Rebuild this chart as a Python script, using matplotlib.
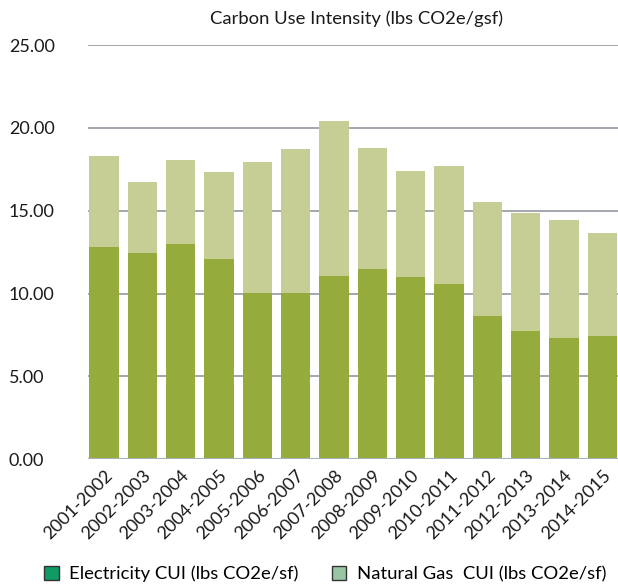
import numpy as np
import matplotlib
matplotlib.use('Agg')
import matplotlib.pyplot as plt
from matplotlib.patches import Patch

plt.rcParams['font.family'] = ['Lato', 'DejaVu Sans']

years = ['2001-2002', '2002-2003', '2003-2004', '2004-2005', '2005-2006',
         '2006-2007', '2007-2008', '2008-2009', '2009-2010', '2010-2011',
         '2011-2012', '2012-2013', '2013-2014', '2014-2015']
electricity = [12.84, 12.42, 13.02, 12.06, 10.06, 10.06, 11.09,
               11.51, 11.03, 10.55, 8.67, 7.76, 7.34, 7.46]
total = [18.29, 16.71, 18.05, 17.32, 17.92, 18.71, 20.41,
         18.77, 17.38, 17.68, 15.51, 14.84, 14.42, 13.63]
natural_gas = [t - e for t, e in zip(total, electricity)]

bar_elec = '#95ac3d'
bar_gas = '#c6ce96'

fig = plt.figure(figsize=(6.18, 5.86), dpi=100)
# axes runs past the right edge, the chart is cropped there
ax = fig.add_axes([88 / 618, 126.7 / 586, 552 / 618, 414.3 / 586])

x = np.arange(len(years))
ax.bar(x, electricity, width=0.765, color=bar_elec, zorder=2)
ax.bar(x, natural_gas, bottom=electricity, width=0.765, color=bar_gas, zorder=2)

ax.set_xlim(-0.42, -0.42 + 552 / 38.33)
ax.set_ylim(0, 25)
ax.set_yticks([0, 5, 10, 15, 20, 25])
ax.set_yticklabels([f'{v:.2f}' for v in [0, 5, 10, 15, 20, 25]], fontsize=13, color='#1a1a1a')
ax.yaxis.grid(True, color='#9aa0a6', linewidth=1.3, zorder=0)
ax.set_axisbelow(True)
for s in ax.spines.values():
    s.set_visible(False)
ax.axhline(0, color='#a9b0b8', linewidth=1.5, zorder=3)
ax.tick_params(axis='both', length=0)
# labels are left aligned, starting near the figure edge
ax.tick_params(axis='y', pad=57)
for lbl in ax.get_yticklabels():
    lbl.set_horizontalalignment('left')

ax.set_xticks(x)
ax.set_xticklabels(years, rotation=45, ha='right', va='top',
                   rotation_mode='anchor', fontsize=13, color='#1a1a1a')
ax.tick_params(axis='x', pad=6)

fig.text(357 / 618, 1 - 19 / 586, 'Carbon Use Intensity (lbs CO2e/gsf)',
         ha='center', va='center', fontsize=13.3, color='#1a1a1a')

handles = [Patch(facecolor='#0f9b63', edgecolor='#333333', linewidth=1),
           Patch(facecolor='#99c6a2', edgecolor='#333333', linewidth=1)]
fig.legend(handles, ['Electricity CUI (lbs CO2e/sf)', 'Natural Gas  CUI (lbs CO2e/sf)'],
           loc='center', bbox_to_anchor=(325 / 618, 1 - 574 / 586), ncol=2,
           frameon=False, fontsize=13.3, handlelength=0.8, handleheight=0.8,
           handletextpad=0.55, columnspacing=1.8)

fig.savefig('out.png', dpi=100)
